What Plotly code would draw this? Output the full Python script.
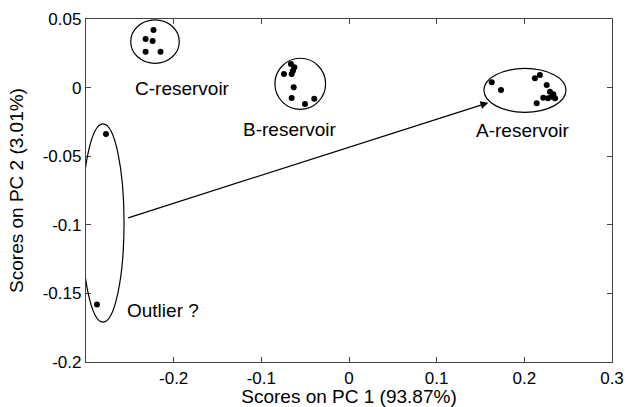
import plotly.graph_objects as go

# ---- data ----
c_x = [-0.223, -0.232, -0.224, -0.232, -0.215]
c_y = [0.042, 0.0354, 0.034, 0.0262, 0.0262]

b_x = [-0.0662, -0.0624, -0.0639, -0.0654, -0.0742, -0.0631, -0.0654, -0.0502, -0.0396]
b_y = [0.0172, 0.0148, 0.0123, 0.0099, 0.0099, 0.0002, -0.0076, -0.0120, -0.0081]

a_x = [0.1628, 0.1734, 0.2121, 0.2178, 0.2255, 0.2292, 0.2216, 0.2312, 0.2331, 0.2350, 0.2141, 0.2270]
a_y = [0.0039, -0.0017, 0.0068, 0.0092, 0.0019, -0.0030, -0.0074, -0.0066, -0.0049, -0.0078, -0.0114, -0.0078]

o_x = [-0.2772, -0.2875]
o_y = [-0.0338, -0.158]

# ellipses: center x, center y, radius x, radius y
ell_cx = [-0.2213, -0.0556, 0.2007, -0.2806]
ell_cy = [0.0335, 0.0028, -0.0020, -0.0987]
ell_rx = [0.0277, 0.0289, 0.0468, 0.0240]
ell_ry = [0.0158, 0.0186, 0.0160, 0.0722]

label_text = ["C-reservoir", "B-reservoir", "A-reservoir", "Outlier ?"]
label_x = [-0.190, -0.0673, 0.199, -0.2122]
label_y = [-0.0003, -0.0309, -0.0316, -0.1628]

arrow_from = (-0.2536, -0.0953)
arrow_to = (0.1589, -0.011)

x_ticks = [-0.2, -0.1, 0, 0.1, 0.2, 0.3]
x_ticklabels = ["-0.2", "-0.1", "0", "0.1", "0.2", "0.3"]
y_ticks = [0.05, 0, -0.05, -0.1, -0.15, -0.2]
y_ticklabels = ["0.05", "0", "-0.05", "-0.1", "-0.15", "-0.2"]

FONT = "Liberation Sans, Arial, Helvetica, sans-serif"

fig = go.Figure()
all_x = c_x + b_x + a_x + o_x
all_y = c_y + b_y + a_y + o_y
fig.add_trace(go.Scatter(x=all_x, y=all_y, mode="markers",
                         marker=dict(color="black", size=6), showlegend=False,
                         cliponaxis=False))

for cx, cy, rx, ry in zip(ell_cx, ell_cy, ell_rx, ell_ry):
    fig.add_shape(type="circle", xref="x", yref="y",
                  x0=cx - rx, x1=cx + rx, y0=cy - ry, y1=cy + ry,
                  line=dict(color="black", width=1.2))

for t, x, y in zip(label_text, label_x, label_y):
    fig.add_annotation(x=x, y=y, text=t, showarrow=False, xref="x", yref="y",
                       font=dict(family=FONT, size=19, color="black"))

fig.add_annotation(x=arrow_to[0], y=arrow_to[1], ax=arrow_from[0], ay=arrow_from[1],
                   xref="x", yref="y", axref="x", ayref="y", text="",
                   showarrow=True, arrowhead=2, arrowsize=1.3, arrowwidth=1.2,
                   arrowcolor="black")

axis_common = dict(showgrid=False, zeroline=False, showline=True, mirror="ticks",
                   linecolor="#444", linewidth=1.3, ticks="inside", ticklen=5,
                   tickcolor="#444", automargin=False,
                   tickfont=dict(family=FONT, size=17, color="black"))

fig.update_xaxes(range=[-0.3, 0.3], tickvals=x_ticks, ticktext=x_ticklabels,
                 ticklabelstandoff=0,
                 title=dict(text="Scores on PC 1 (93.87%)", standoff=8,
                            font=dict(family=FONT, size=19, color="black")),
                 **axis_common)
fig.update_yaxes(range=[-0.2, 0.05], tickvals=y_ticks, ticktext=y_ticklabels,
                 title=dict(text="Scores on PC 2 (3.01%)", standoff=14,
                            font=dict(family=FONT, size=19, color="black")),
                 **axis_common)

fig.update_layout(width=628, height=407, margin=dict(l=86, r=16, t=19, b=45),
                  paper_bgcolor="white", plot_bgcolor="white",
                  font=dict(family=FONT, color="black"))

fig.write_html("out.html")
